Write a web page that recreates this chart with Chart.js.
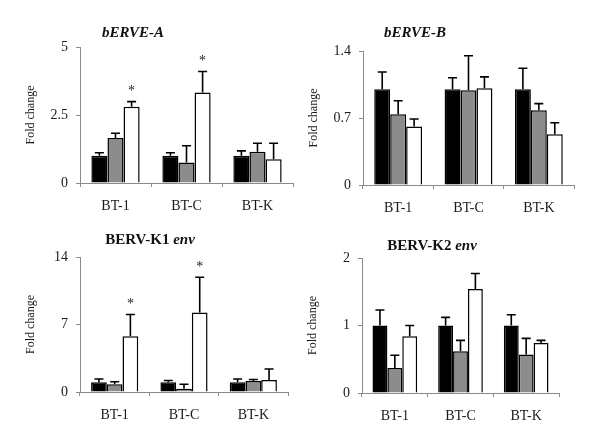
<!DOCTYPE html>
<html>
<head>
<meta charset="utf-8">
<script src="https://cdn.jsdelivr.net/npm/chart.js@4.4.1/dist/chart.umd.min.js"></script>
<style>
  body { margin: 0; background: #fff; width: 600px; height: 446px; position: relative; overflow: hidden; font-family: 'Liberation Serif', serif; }
  .box { position: absolute; width: 300px; height: 223px; }
  .ttl { position: absolute; font-weight: bold; font-size: 15px; color: #111; transform: translate(-50%, -50%); white-space: nowrap; }
  .ttl i { font-style: italic; }
</style>
</head>
<body>
<div class="box" style="left:0;top:0"><canvas id="c1" width="300" height="223"></canvas></div>
<div class="box" style="left:300px;top:0"><canvas id="c2" width="300" height="223"></canvas></div>
<div class="box" style="left:0;top:223px"><canvas id="c3" width="300" height="223"></canvas></div>
<div class="box" style="left:300px;top:223px"><canvas id="c4" width="300" height="223"></canvas></div>
<div class="ttl" style="left:133px;top:32px"><i>bERVE-A</i></div>
<div class="ttl" style="left:415px;top:32px"><i>bERVE-B</i></div>
<div class="ttl" style="left:150px;top:239px">BERV-K1 <i>env</i></div>
<div class="ttl" style="left:432px;top:245px">BERV-K2 <i>env</i></div>
<script>
const categories = ['BT-1', 'BT-C', 'BT-K'];

// bERVE-A
const ervaBlack = [1, 1, 1];
const ervaBlackErr = [0.11, 0.11, 0.18];
const ervaGray = [1.65, 0.75, 1.15];
const ervaGrayErr = [0.18, 0.62, 0.31];
const ervaWhite = [2.8, 3.33, 0.87];
const ervaWhiteErr = [0.19, 0.77, 0.59];
const ervaSig = [true, true, false];
const ervaTicks = [0, 2.5, 5];

// bERVE-B
const ervbBlack = [1, 1, 1];
const ervbBlackErr = [0.18, 0.12, 0.22];
const ervbGray = [0.74, 0.99, 0.78];
const ervbGrayErr = [0.14, 0.36, 0.07];
const ervbWhite = [0.61, 1.01, 0.53];
const ervbWhiteErr = [0.08, 0.12, 0.12];
const ervbSig = [false, false, false];
const ervbTicks = [0, 0.7, 1.4];

// BERV-K1 env
const k1Black = [1, 1, 1];
const k1BlackErr = [0.35, 0.2, 0.35];
const k1Gray = [0.8, 0.35, 1.14];
const k1GrayErr = [0.27, 0.45, 0.16];
const k1White = [5.77, 8.25, 1.24];
const k1WhiteErr = [2.27, 3.65, 1.14];
const k1Sig = [true, true, false];
const k1Ticks = [0, 7, 14];

// BERV-K2 env
const k2Black = [1, 1, 1];
const k2BlackErr = [0.23, 0.12, 0.16];
const k2Gray = [0.37, 0.62, 0.57];
const k2GrayErr = [0.19, 0.16, 0.24];
const k2White = [0.84, 1.54, 0.74];
const k2WhiteErr = [0.16, 0.23, 0.04];
const k2Sig = [false, false, false];
const k2Ticks = [0, 1, 2];

const serif = 'Liberation Serif';

// draws the upper error bars and the asterisks
const errBars = {
    id: 'errBars',
    afterDatasetsDraw(chart) {
        const ctx = chart.ctx;
        const y = chart.scales.y;
        chart.data.datasets.forEach((ds, i) => {
            chart.getDatasetMeta(i).data.forEach((bar, j) => {
                const top = y.getPixelForValue(ds.data[j] + ds.err[j]);
                ctx.save();
                ctx.strokeStyle = '#000';
                ctx.lineWidth = 1.6;
                ctx.beginPath();
                ctx.moveTo(bar.x, bar.y);
                ctx.lineTo(bar.x, top);
                ctx.moveTo(bar.x - 4.5, top);
                ctx.lineTo(bar.x + 4.5, top);
                ctx.stroke();
                if (ds.sig && ds.sig[j]) {
                    ctx.fillStyle = '#222';
                    ctx.font = '14px ' + serif;
                    ctx.textAlign = 'center';
                    ctx.textBaseline = 'middle';
                    ctx.fillText('*', bar.x, top - 10);
                }
                ctx.restore();
            });
        });
    }
};

const renderPanel = (id, black, blackErr, gray, grayErr, white, whiteErr, sig, ticks, pad, xH) => {
    const ctx = document.getElementById(id).getContext('2d');
    new Chart(ctx, {
        type: 'bar',
        data: {
            labels: categories,
            datasets: [
                { data: black, err: blackErr, backgroundColor: '#000' },
                { data: gray, err: grayErr, backgroundColor: '#8c8c8c' },
                { data: white, err: whiteErr, sig: sig, backgroundColor: '#fff' }
            ]
        },
        options: {
            responsive: false,
            animation: false,
            layout: { padding: pad },
            datasets: {
                bar: { categoryPercentage: 0.68, barPercentage: 1, borderColor: '#000', borderWidth: 1.5 }
            },
            plugins: {
                legend: { display: false },
                tooltip: { enabled: false }
            },
            scales: {
                x: {
                    afterFit: s => { s.height = xH; },
                    border: { color: '#8a8a8a' },
                    grid: { drawOnChartArea: false, tickLength: 4, color: '#8a8a8a', offset: true },
                    ticks: { font: { family: serif, size: 14 }, color: '#1a1a1a', padding: 11 }
                },
                y: {
                    min: 0,
                    max: ticks[ticks.length - 1],
                    afterBuildTicks: s => { s.ticks = ticks.map(v => ({ value: v })); },
                    afterFit: s => { s.width = 56; },
                    border: { color: '#8a8a8a' },
                    grid: { drawOnChartArea: false, tickLength: 4, color: '#8a8a8a' },
                    ticks: { font: { family: serif, size: 14 }, color: '#1a1a1a', padding: 8 },
                    title: { display: true, text: 'Fold change', font: { family: serif, size: 12 }, color: '#1a1a1a', padding: 0 }
                }
            }
        },
        plugins: [errBars]
    });
};

renderPanel('c1', ervaBlack, ervaBlackErr, ervaGray, ervaGrayErr, ervaWhite, ervaWhiteErr, ervaSig, ervaTicks,
    { left: 24, right: 7, top: 47, bottom: 0 }, 40);
renderPanel('c2', ervbBlack, ervbBlackErr, ervbGray, ervbGrayErr, ervbWhite, ervbWhiteErr, ervbSig, ervbTicks,
    { left: 7, right: 26, top: 51, bottom: 0 }, 38);
renderPanel('c3', k1Black, k1BlackErr, k1Gray, k1GrayErr, k1White, k1WhiteErr, k1Sig, k1Ticks,
    { left: 24, right: 12, top: 34, bottom: 0 }, 54);
renderPanel('c4', k2Black, k2BlackErr, k2Gray, k2GrayErr, k2White, k2WhiteErr, k2Sig, k2Ticks,
    { left: 6, right: 41, top: 35, bottom: 0 }, 53);
</script>
</body>
</html>
